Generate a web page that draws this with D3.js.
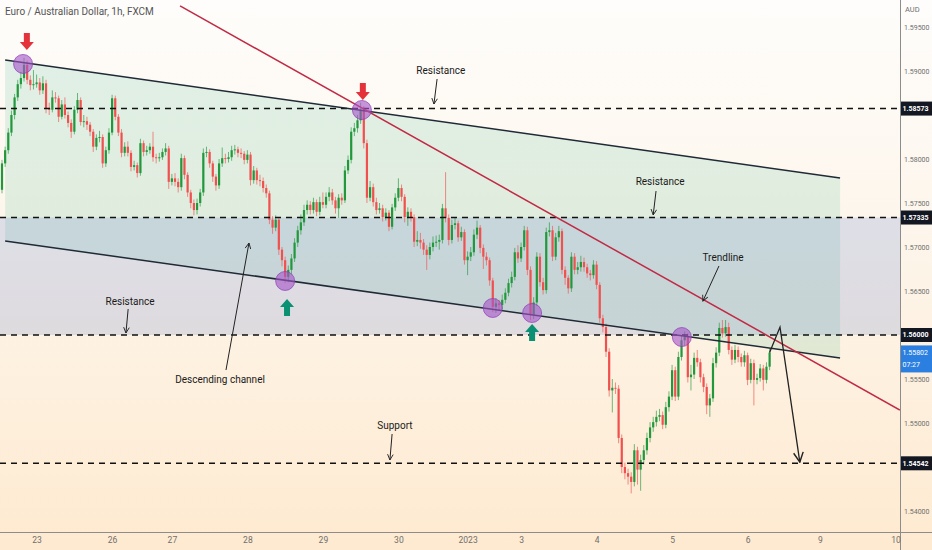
<!DOCTYPE html>
<html>
<head>
<meta charset="utf-8">
<script src="https://cdn.jsdelivr.net/npm/d3@7"></script>
<style>
  body { margin: 0; background: #fff; }
  svg { display: block; font-family: Roboto, "Liberation Sans", sans-serif; }
</style>
</head>
<body>
<div id="chart"></div>
<script>
// EUR/AUD 1h candles (open of each candle = previous close)
var firstOpen = 1.5765;
var closes = [
  1.5795,1.5810,1.5830,1.5850,1.5870,1.5885,1.5892,1.5907,1.5890,1.5884,
  1.5885,1.5887,1.5878,1.5886,1.5858,1.5856,1.5870,1.5869,1.5848,1.5862,
  1.5850,1.5841,1.5831,1.5856,1.5867,1.5842,1.5843,1.5839,1.5831,1.5814,
  1.5824,1.5825,1.5795,1.5810,1.5830,1.5869,1.5848,1.5830,1.5807,1.5814,
  1.5807,1.5791,1.5793,1.5784,1.5818,1.5808,1.5810,1.5814,1.5802,1.5801,
  1.5802,1.5808,1.5812,1.5774,1.5778,1.5774,1.5768,1.5801,1.5782,1.5762,
  1.5750,1.5742,1.5750,1.5762,1.5807,1.5808,1.5795,1.5780,1.5770,1.5795,
  1.5801,1.5800,1.5802,1.5810,1.5811,1.5807,1.5806,1.5799,1.5805,1.5776,
  1.5787,1.5776,1.5775,1.5767,1.5761,1.5731,1.5722,1.5731,1.5697,1.5685,
  1.5666,1.5674,1.5687,1.5705,1.5719,1.5728,1.5742,1.5748,1.5742,1.5751,
  1.5740,1.5751,1.5748,1.5757,1.5762,1.5753,1.5744,1.5756,1.5753,1.5787,
  1.5799,1.5831,1.5835,1.5844,1.5856,1.5818,1.5756,1.5768,1.5751,1.5742,
  1.5744,1.5734,1.5739,1.5723,1.5745,1.5756,1.5767,1.5757,1.5734,1.5740,
  1.5734,1.5706,1.5708,1.5705,1.5697,1.5691,1.5700,1.5705,1.5706,1.5708,
  1.5744,1.5733,1.5708,1.5725,1.5727,1.5711,1.5717,1.5685,1.5689,1.5694,
  1.5714,1.5722,1.5699,1.5689,1.5685,1.5662,1.5632,1.5636,1.5634,1.5640,
  1.5648,1.5659,1.5666,1.5694,1.5687,1.5700,1.5719,1.5674,1.5623,1.5637,
  1.5689,1.5660,1.5651,1.5717,1.5719,1.5689,1.5711,1.5718,1.5674,1.5665,
  1.5653,1.5689,1.5674,1.5677,1.5683,1.5677,1.5670,1.5668,1.5680,1.5657,
  1.5619,1.5609,1.5581,1.5537,1.5540,1.5539,1.5483,1.5450,1.5443,1.5439,
  1.5433,1.5469,1.5447,1.5458,1.5469,1.5483,1.5495,1.5501,1.5507,1.5509,
  1.5498,1.5518,1.5530,1.5560,1.5530,1.5575,1.5594,1.5598,1.5552,1.5555,
  1.5574,1.5569,1.5552,1.5541,1.5520,1.5528,1.5568,1.5580,1.5608,1.5602,
  1.5609,1.5583,1.5572,1.5583,1.5575,1.5569,1.5577,1.5549,1.5568,1.5549,
  1.5551,1.5562,1.5549,1.5564,1.5580
];
var highs = [
  1.5799,1.5814,1.5835,1.5855,1.5874,1.5890,1.5899,1.5915,1.5912,1.5895,
  1.5901,1.5896,1.5892,1.5894,1.5890,1.5864,1.5878,1.5876,1.5872,1.5867,
  1.5870,1.5854,1.5845,1.5860,1.5875,1.5870,1.5850,1.5848,1.5842,1.5834,
  1.5828,1.5832,1.5828,1.5814,1.5835,1.5873,1.5872,1.5851,1.5834,1.5819,
  1.5820,1.5810,1.5798,1.5796,1.5823,1.5821,1.5815,1.5818,1.5831,1.5806,
  1.5807,1.5812,1.5818,1.5815,1.5783,1.5784,1.5778,1.5806,1.5804,1.5785,
  1.5765,1.5754,1.5755,1.5766,1.5812,1.5814,1.5811,1.5798,1.5783,1.5800,
  1.5813,1.5806,1.5808,1.5815,1.5816,1.5814,1.5812,1.5809,1.5810,1.5808,
  1.5792,1.5790,1.5782,1.5779,1.5771,1.5764,1.5735,1.5736,1.5734,1.5700,
  1.5689,1.5679,1.5692,1.5710,1.5724,1.5737,1.5748,1.5753,1.5752,1.5756,
  1.5754,1.5757,1.5762,1.5762,1.5768,1.5766,1.5757,1.5760,1.5761,1.5792,
  1.5804,1.5836,1.5841,1.5850,1.5864,1.5860,1.5822,1.5775,1.5772,1.5756,
  1.5750,1.5748,1.5744,1.5742,1.5749,1.5761,1.5778,1.5771,1.5760,1.5745,
  1.5744,1.5737,1.5718,1.5716,1.5709,1.5702,1.5705,1.5712,1.5713,1.5714,
  1.5749,1.5785,1.5737,1.5731,1.5734,1.5730,1.5723,1.5720,1.5695,1.5700,
  1.5720,1.5730,1.5725,1.5703,1.5694,1.5688,1.5665,1.5642,1.5640,1.5646,
  1.5653,1.5664,1.5672,1.5699,1.5702,1.5705,1.5724,1.5723,1.5678,1.5643,
  1.5694,1.5693,1.5665,1.5722,1.5728,1.5724,1.5716,1.5724,1.5721,1.5678,
  1.5668,1.5694,1.5693,1.5683,1.5690,1.5688,1.5681,1.5674,1.5685,1.5684,
  1.5660,1.5623,1.5613,1.5585,1.5550,1.5546,1.5543,1.5487,1.5455,1.5448,
  1.5444,1.5476,1.5473,1.5464,1.5475,1.5489,1.5501,1.5507,1.5514,1.5516,
  1.5513,1.5524,1.5536,1.5566,1.5564,1.5581,1.5600,1.5604,1.5602,1.5566,
  1.5580,1.5583,1.5573,1.5556,1.5545,1.5533,1.5574,1.5586,1.5614,1.5617,
  1.5617,1.5614,1.5587,1.5589,1.5587,1.5579,1.5582,1.5580,1.5573,1.5572,
  1.5556,1.5567,1.5566,1.5569,1.5585
];
var lows = [
  1.5761,1.5791,1.5806,1.5826,1.5845,1.5866,1.5880,1.5888,1.5885,1.5878,
  1.5879,1.5881,1.5873,1.5874,1.5852,1.5850,1.5853,1.5864,1.5842,1.5845,
  1.5846,1.5836,1.5824,1.5828,1.5852,1.5838,1.5836,1.5833,1.5826,1.5808,
  1.5810,1.5819,1.5790,1.5791,1.5806,1.5827,1.5844,1.5826,1.5802,1.5803,
  1.5803,1.5786,1.5787,1.5779,1.5781,1.5803,1.5804,1.5806,1.5797,1.5795,
  1.5797,1.5799,1.5804,1.5766,1.5770,1.5769,1.5762,1.5764,1.5777,1.5757,
  1.5744,1.5736,1.5737,1.5746,1.5758,1.5802,1.5790,1.5774,1.5764,1.5766,
  1.5791,1.5795,1.5796,1.5798,1.5805,1.5802,1.5801,1.5794,1.5795,1.5770,
  1.5772,1.5771,1.5769,1.5762,1.5756,1.5726,1.5715,1.5718,1.5691,1.5678,
  1.5659,1.5660,1.5669,1.5683,1.5700,1.5714,1.5724,1.5737,1.5737,1.5738,
  1.5735,1.5736,1.5744,1.5744,1.5752,1.5748,1.5738,1.5733,1.5748,1.5750,
  1.5783,1.5795,1.5826,1.5830,1.5840,1.5812,1.5750,1.5752,1.5746,1.5737,
  1.5738,1.5729,1.5730,1.5718,1.5720,1.5741,1.5752,1.5752,1.5728,1.5724,
  1.5729,1.5700,1.5701,1.5698,1.5691,1.5674,1.5686,1.5695,1.5700,1.5697,
  1.5704,1.5728,1.5702,1.5704,1.5720,1.5706,1.5707,1.5680,1.5668,1.5684,
  1.5690,1.5709,1.5693,1.5675,1.5679,1.5656,1.5626,1.5625,1.5628,1.5629,
  1.5636,1.5644,1.5654,1.5662,1.5682,1.5683,1.5696,1.5668,1.5617,1.5618,
  1.5633,1.5655,1.5646,1.5647,1.5712,1.5684,1.5685,1.5706,1.5669,1.5657,
  1.5647,1.5649,1.5669,1.5669,1.5672,1.5672,1.5665,1.5662,1.5664,1.5652,
  1.5614,1.5603,1.5575,1.5530,1.5512,1.5533,1.5477,1.5443,1.5436,1.5430,
  1.5420,1.5428,1.5430,1.5423,1.5453,1.5464,1.5478,1.5490,1.5496,1.5502,
  1.5493,1.5494,1.5513,1.5526,1.5525,1.5526,1.5571,1.5588,1.5546,1.5537,
  1.5550,1.5564,1.5546,1.5535,1.5510,1.5507,1.5524,1.5563,1.5576,1.5597,
  1.5598,1.5578,1.5566,1.5568,1.5569,1.5564,1.5564,1.5543,1.5545,1.5520,
  1.5544,1.5547,1.5537,1.5545,1.5560
];

// time axis: candle index where each day label sits
var dayTicks  = [11, 35, 54, 78, 102, 126, 148, 165, 189, 213, 237, 260, 284];
var dayLabels = ["23", "26", "27", "28", "29", "30", "2023", "3", "4", "5", "6", "9", "10"];
// price scale labels not hidden behind a level tag
var priceTicks = [1.595, 1.59, 1.58, 1.575, 1.57, 1.565, 1.555, 1.55, 1.54];

// drawings (candle index, price)
var levels = [1.58573, 1.57335, 1.56, 1.54542];
var zoneTop = 1.57335, zoneBottom = 1.56;
var lastPrice = 1.55802, lastTime = "07:27";
var channelUpper = [[1, 1.59125], [266.4, 1.57784]];
var channelLower = [[1, 1.57068], [266.4, 1.55739]];
var trendline = [[56.6, 1.59739], [285.4, 1.55148]];
var touches = [[6.7, 1.5908], [114.4, 1.58557], [90, 1.56614], [156, 1.56307], [168.5, 1.5625], [216.1, 1.55977]];
var sellArrows = [[7.9, 1.5933], [114.7, 1.58761]];
var buyArrows = [[90.6, 1.56318], [168.5, 1.56034]];
var projection = [[244, 1.5580], [247.3, 1.5609], [253.6, 1.54556]];
var notes = [
  { text: "Resistance", at: [139.5, 1.59011], from: [138.3, 1.58909], to: [137.3, 1.58625] },
  { text: "Resistance", at: [209.2, 1.57739], from: [207.9, 1.57636], to: [207.0, 1.57364] },
  { text: "Trendline", at: [229.2, 1.56886], from: [227.9, 1.56784], to: [222.8, 1.56386] },
  { text: "Resistance", at: [40.7, 1.56386], from: [40.1, 1.56295], to: [39.4, 1.56023] },
  { text: "Descending channel", at: [69.3, 1.5550], from: [71.2, 1.55602], to: [78.5, 1.57045] },
  { text: "Support", at: [124.9, 1.54966], from: [124.0, 1.54875], to: [123.3, 1.5458] }
];

var W = 932, H = 550, plotRight = 900, plotBottom = 532;

var svg = d3.select("#chart").append("svg")
    .attr("width", W)
    .attr("height", H);

var defs = svg.append("defs");
var grad = defs.append("linearGradient").attr("id", "bg")
    .attr("x1", 0).attr("y1", 0).attr("x2", 0).attr("y2", 1);
grad.append("stop").attr("offset", "0%").attr("stop-color", "#fefdfb");
grad.append("stop").attr("offset", "45%").attr("stop-color", "#fdf5ea");
grad.append("stop").attr("offset", "100%").attr("stop-color", "#feead0");

defs.append("clipPath").attr("id", "plot")
    .append("rect").attr("x", 0).attr("y", 0).attr("width", plotRight).attr("height", plotBottom);

defs.append("marker")
    .attr("id", "open")
    .attr("viewBox", "0 0 10 10")
    .attr("refX", 9).attr("refY", 5)
    .attr("markerWidth", 7).attr("markerHeight", 7)
    .attr("markerUnits", "userSpaceOnUse")
    .attr("orient", "auto")
    .append("path")
    .attr("d", "M1,1 L9,5 L1,9")
    .attr("fill", "none")
    .attr("stroke", "#222")
    .attr("stroke-width", 1.3);

defs.append("marker")
    .attr("id", "openBig")
    .attr("viewBox", "0 0 10 10")
    .attr("refX", 9).attr("refY", 5)
    .attr("markerWidth", 12).attr("markerHeight", 12)
    .attr("markerUnits", "userSpaceOnUse")
    .attr("orient", "auto")
    .append("path")
    .attr("d", "M1,1 L9,5 L1,9")
    .attr("fill", "none")
    .attr("stroke", "#222")
    .attr("stroke-width", 1.2);

svg.append("rect").attr("width", W).attr("height", H).attr("fill", "url(#bg)");

var x = d3.scaleLinear().domain([0, 285]).range([2, 898.6]);
var y = d3.scaleLinear().domain([1.54, 1.595]).range([511, 27]);
var step = x(1) - x(0);

var plot = svg.append("g").attr("clip-path", "url(#plot)");

// channel fill
var poly = [channelUpper[0], channelUpper[1], channelLower[1], channelLower[0]];
plot.append("path")
    .attr("d", d3.line().x(function (d) { return x(d[0]); }).y(function (d) { return y(d[1]); })(poly) + "Z")
    .attr("fill", "rgba(60,180,140,0.15)");

// zone between the two middle levels
plot.append("rect")
    .attr("x", 0)
    .attr("width", plotRight)
    .attr("y", y(zoneTop))
    .attr("height", y(zoneBottom) - y(zoneTop))
    .attr("fill", "rgba(100,130,210,0.2)");

// candles
var candles = closes.map(function (c, i) {
    return { i: i, o: i === 0 ? firstOpen : closes[i - 1], c: c, h: highs[i], l: lows[i] };
});
var colorOf = function (d) { return d.c >= d.o ? "#22983d" : "#f0514f"; };

plot.selectAll("line.wick")
    .data(candles)
    .enter()
    .append("line")
    .attr("class", "wick")
    .attr("x1", function (d) { return x(d.i); })
    .attr("x2", function (d) { return x(d.i); })
    .attr("y1", function (d) { return y(d.h); })
    .attr("y2", function (d) { return y(d.l); })
    .attr("stroke", colorOf)
    .attr("stroke-opacity", 0.65)
    .attr("stroke-width", 1);

plot.selectAll("rect.body")
    .data(candles)
    .enter()
    .append("rect")
    .attr("class", "body")
    .attr("x", function (d) { return x(d.i) - step * 0.35; })
    .attr("width", step * 0.7)
    .attr("y", function (d) { return y(Math.max(d.o, d.c)); })
    .attr("height", function (d) { return Math.max(1, Math.abs(y(d.o) - y(d.c))); })
    .attr("fill", colorOf);

// dashed levels
plot.selectAll("line.level")
    .data(levels)
    .enter()
    .append("line")
    .attr("class", "level")
    .attr("x1", 0).attr("x2", plotRight)
    .attr("y1", function (d) { return y(d); })
    .attr("y2", function (d) { return y(d); })
    .attr("stroke", "#111")
    .attr("stroke-width", 1.5)
    .attr("stroke-dasharray", "6,5");

// channel lines
[channelUpper, channelLower].forEach(function (seg) {
    plot.append("line")
        .attr("x1", x(seg[0][0])).attr("y1", y(seg[0][1]))
        .attr("x2", x(seg[1][0])).attr("y2", y(seg[1][1]))
        .attr("stroke", "#1f2a36")
        .attr("stroke-width", 1.5);
});

// trendline
plot.append("line")
    .attr("x1", x(trendline[0][0])).attr("y1", y(trendline[0][1]))
    .attr("x2", x(trendline[1][0])).attr("y2", y(trendline[1][1]))
    .attr("stroke", "#c02a45")
    .attr("stroke-width", 1.5);

// touch circles
plot.selectAll("circle.touch")
    .data(touches)
    .enter()
    .append("circle")
    .attr("class", "touch")
    .attr("cx", function (d) { return x(d[0]); })
    .attr("cy", function (d) { return y(d[1]); })
    .attr("r", 9.5)
    .attr("fill", "rgba(165,85,200,0.62)")
    .attr("stroke", "rgba(140,60,180,0.7)")
    .attr("stroke-width", 1);

// signal arrows
var downArrow = "M-3,-9 L3,-9 L3,0 L7,0 L0,8 L-7,0 L-3,0 Z";
var upArrow = "M-3,9 L3,9 L3,0 L7,0 L0,-8 L-7,0 L-3,0 Z";
plot.selectAll("path.sell")
    .data(sellArrows)
    .enter()
    .append("path")
    .attr("class", "sell")
    .attr("d", downArrow)
    .attr("transform", function (d) { return "translate(" + x(d[0]) + "," + y(d[1]) + ")"; })
    .attr("fill", "#e5323a");
plot.selectAll("path.buy")
    .data(buyArrows)
    .enter()
    .append("path")
    .attr("class", "buy")
    .attr("d", upArrow)
    .attr("transform", function (d) { return "translate(" + x(d[0]) + "," + y(d[1]) + ")"; })
    .attr("fill", "#0a9173");

// projected path
plot.append("path")
    .attr("d", d3.line().x(function (d) { return x(d[0]); }).y(function (d) { return y(d[1]); })(projection))
    .attr("fill", "none")
    .attr("stroke", "#222")
    .attr("stroke-width", 1.3)
    .attr("marker-end", "url(#openBig)");

// text notes with pointers
notes.forEach(function (n) {
    plot.append("line")
        .attr("x1", x(n.from[0])).attr("y1", y(n.from[1]))
        .attr("x2", x(n.to[0])).attr("y2", y(n.to[1]))
        .attr("stroke", "#222")
        .attr("stroke-width", 1)
        .attr("marker-end", "url(#open)");
    plot.append("text")
        .attr("x", x(n.at[0]))
        .attr("y", y(n.at[1]))
        .attr("dy", "0.35em")
        .attr("text-anchor", "middle")
        .attr("font-size", 10)
        .attr("fill", "#1a1a1a")
        .text(n.text);
});

// title
svg.append("text")
    .attr("x", 5).attr("y", 15)
    .attr("font-size", 10)
    .attr("fill", "#555")
    .text("Euro / Australian Dollar, 1h, FXCM");

// axes
svg.append("line")
    .attr("x1", plotRight + 0.5).attr("x2", plotRight + 0.5)
    .attr("y1", 0).attr("y2", H)
    .attr("stroke", "#8c8c8c");
svg.append("line")
    .attr("x1", 0).attr("x2", W)
    .attr("y1", plotBottom + 0.5).attr("y2", plotBottom + 0.5)
    .attr("stroke", "#8c8c8c");

var yAxis = svg.append("g")
    .attr("transform", "translate(" + (plotRight + 1) + ",0)")
    .call(d3.axisRight(y).tickValues(priceTicks).tickFormat(d3.format(".5f")).tickSize(0).tickPadding(3));
yAxis.select(".domain").remove();
yAxis.selectAll("text")
    .attr("font-size", 7)
    .attr("fill", "#6e6e6e")
    .attr("font-family", "Roboto, sans-serif");

svg.append("text")
    .attr("x", 905).attr("y", 12)
    .attr("font-size", 7.5)
    .attr("fill", "#6e6e6e")
    .text("AUD");

var xAxis = svg.append("g")
    .attr("transform", "translate(0," + plotBottom + ")")
    .call(d3.axisBottom(x).tickValues(dayTicks)
        .tickFormat(function (d, i) { return dayLabels[i]; })
        .tickSize(0).tickPadding(5));
xAxis.select(".domain").remove();
xAxis.selectAll("text").attr("font-size", 8.5).attr("fill", "#6e6e6e").attr("font-family", "Roboto, sans-serif");

// level labels on the price scale
levels.forEach(function (v) {
    svg.append("rect")
        .attr("x", plotRight + 1).attr("y", y(v) - 7)
        .attr("width", 31).attr("height", 14)
        .attr("fill", "#131722");
    svg.append("text")
        .attr("x", plotRight + 2.5).attr("y", y(v))
        .attr("dy", "0.35em")
        .attr("font-size", 7)
        .attr("font-weight", "bold")
        .attr("fill", "#fff")
        .text(d3.format(".5f")(v));
});

// current price
svg.append("rect")
    .attr("x", plotRight + 1).attr("y", y(lastPrice) - 7)
    .attr("width", 31).attr("height", 27)
    .attr("fill", "#2b7fe0");
svg.append("text")
    .attr("x", plotRight + 2.5).attr("y", y(lastPrice))
    .attr("dy", "0.35em")
    .attr("font-size", 7)
    .attr("fill", "#fff")
    .text(d3.format(".5f")(lastPrice));
svg.append("text")
    .attr("x", plotRight + 2.5).attr("y", y(lastPrice) + 12)
    .attr("dy", "0.35em")
    .attr("font-size", 7)
    .attr("fill", "#fff")
    .text(lastTime);
</script>
</body>
</html>
